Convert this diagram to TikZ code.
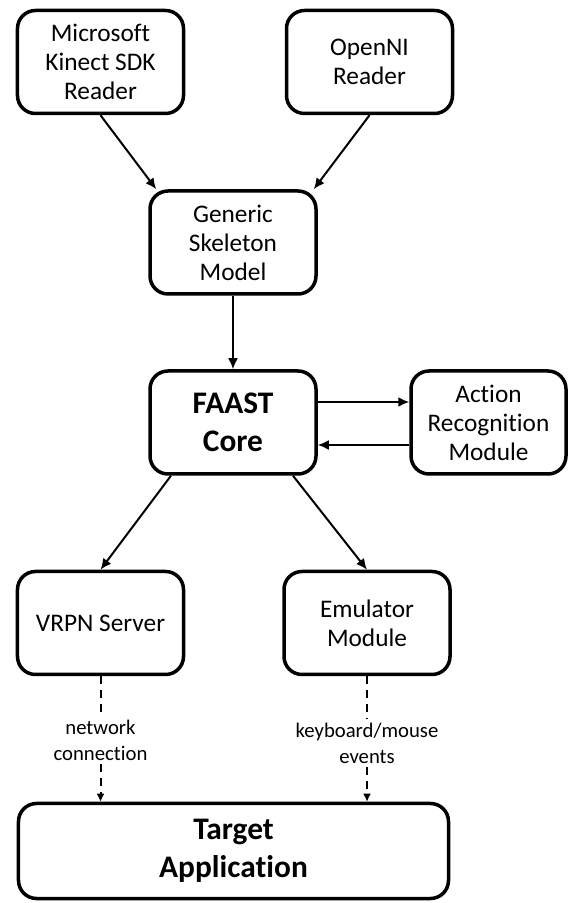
\documentclass[tikz,border=0pt]{standalone}
\usepackage{fontspec}
\setmainfont{Carlito}[Ligatures=NoCommon]
\usetikzlibrary{arrows.meta,positioning}

\begin{document}
\begin{tikzpicture}[x=1bp,y=1bp,
    box/.style={draw, line width=3.5bp, rounded corners=18bp, align=center,
      minimum width=166bp, minimum height=103bp, inner sep=2bp,
      font=\fontsize{25.4}{29.1}\selectfont},
    big/.style={font=\fontsize{31.5}{37.6}\selectfont\bfseries},
    link/.style={line width=2bp, -{Latex[length=11bp,width=10bp]}},
    dlink/.style={line width=2bp, dash pattern=on 8bp off 6bp},
    lbl/.style={align=center, inner sep=4bp, font=\fontsize{20.8}{26.1}\selectfont}]
  \useasboundingbox (0,0) rectangle (568,903);
  \node [box] (mks) at (100.5,841) {Microsoft\\Kinect SDK\\Reader};
  \node [box] (openni) at (369.5,841) {OpenNI\\Reader};
  \node [box] (skel) at (233,660.5) {Generic\\Skeleton\\Model};
  \node [box, big] (core) at (233,480.5) {FAAST\\Core};
  \node [box, minimum width=155bp] (arm) [right=91.5bp of core] {Action\\Recognition\\Module};
  \node [box] (vrpn) at (100.5,280) {VRPN Server};
  \node [box] (emu) at (367,280) {Emulator\\Module};
  \node [box, big, minimum width=430bp, minimum height=95bp] (app) at (233.5,52) {Target\\Application};
  \node [lbl] (net) at (100.5,163) {network\\connection};
  \node [lbl] (kbd) at (367,160) {keyboard/mouse\\events};
    \path [link]
    (mks.south) edge ([xshift=8bp]skel.north west)
    (openni.south) edge ([xshift=-4bp]skel.north east)
    (skel) edge (core)
    ([yshift=20.5bp]core.east) edge ([yshift=20.5bp]arm.west)
    ([yshift=-22.5bp]arm.west) edge ([yshift=-22.5bp]core.east)
    ([xshift=-62bp]core.south) edge (vrpn.north)
    ([xshift=60bp]core.south) edge (emu.north);
    \path [dlink]
    (vrpn) edge (net)
    (emu) edge (kbd)
    (net) edge [-{Latex[length=8bp,width=8bp]}] (net |- app.north)
    (kbd) edge [-{Latex[length=8bp,width=8bp]}] (kbd |- app.north);
\end{tikzpicture}
\end{document}
